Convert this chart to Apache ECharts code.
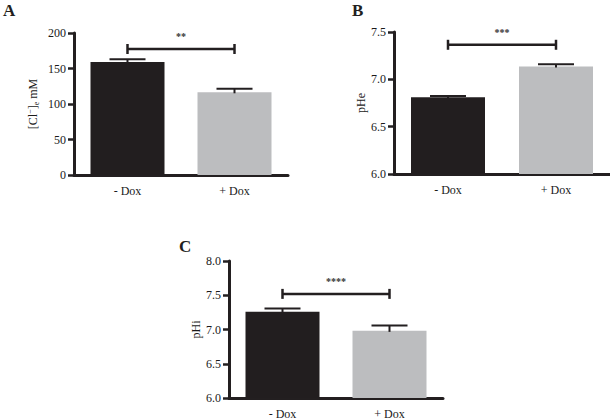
<!DOCTYPE html>
<html>
<head>
<meta charset="utf-8">
<script src="https://cdn.jsdelivr.net/npm/echarts@6/dist/echarts.min.js"></script>
<style>
html,body{margin:0;padding:0;background:#fff;}
#chart{width:610px;height:420px;}
</style>
</head>
<body>
<div id="chart"></div>
<script>
// ---- data ----
const categories = ['- Dox', '+ Dox'];
const clMeans = [159, 116.5];
const clSem = [4, 5];
const pheMeans = [6.81, 7.135];
const pheSem = [0.015, 0.025];
const phiMeans = [7.26, 6.98];
const phiSem = [0.045, 0.08];
const sigLevels = [177.5, 7.365, 7.52];
const sigLabels = ['**', '***', '****'];
const panelLetters = ['A', 'B', 'C'];

const barColors = ['#221e1f', '#bcbdbf'];
const ink = '#231f20';
const font = '"Liberation Serif", "Times New Roman", serif';

const chart = echarts.init(document.getElementById('chart'), null, {renderer: 'svg'});

const grids = [
  {left: 74, top: 33, width: 214, height: 142},
  {left: 394, top: 32, width: 216, height: 142},
  {left: 229, top: 261, width: 214, height: 143}
];

const yCfg = [
  {min: 0, max: 200, interval: 50, dec: 0, name: '{n|[Cl}{sup|−}{n|]}{sub|e}{n| mM}', gap: 34},
  {min: 6, max: 7.5, interval: 0.5, dec: 1, name: 'pHe', gap: 25},
  {min: 6, max: 8, interval: 0.5, dec: 1, name: 'pHi', gap: 23}
];

const meansList = [clMeans, pheMeans, phiMeans];
const semList = [clSem, pheSem, phiSem];

const xAxes = grids.map((g, i) => ({
  type: 'category', gridIndex: i, data: categories,
  axisLine: {lineStyle: {color: ink, width: 3}},
  axisTick: {alignWithLabel: true, length: 6, lineStyle: {color: ink, width: 2.5}},
  axisLabel: {fontFamily: font, fontSize: 12, color: '#1a1a1a', margin: 10}
}));

const yAxes = yCfg.map((c, i) => ({
  type: 'value', gridIndex: i, min: c.min, max: c.max, interval: c.interval,
  splitLine: {show: false},
  axisLine: {show: true, lineStyle: {color: ink, width: 3}},
  axisTick: {show: true, length: 6, lineStyle: {color: ink, width: 2.5}},
  axisLabel: {fontFamily: font, fontSize: 12, color: '#1a1a1a', margin: 8,
    formatter: v => v.toFixed(c.dec)},
  name: c.name, nameLocation: 'middle', nameRotate: 90, nameGap: c.gap,
  nameTextStyle: {fontFamily: font, fontSize: 12, color: '#1a1a1a',
    rich: {
      n: {fontFamily: font, fontSize: 12, color: '#1a1a1a', lineHeight: 14},
      sup: {fontFamily: font, fontSize: 8, color: '#1a1a1a', verticalAlign: 'top', lineHeight: 14, padding: [0, 0, 6, 0]},
      sub: {fontFamily: font, fontSize: 8, color: '#1a1a1a', verticalAlign: 'bottom', lineHeight: 14, padding: [6, 0, 0, 0]}
    }}
}));

const series = [];
meansList.forEach((m, i) => {
  series.push({
    type: 'bar', xAxisIndex: i, yAxisIndex: i, barWidth: 74,
    data: m.map((v, k) => ({value: v, itemStyle: {color: barColors[k]}})),
    silent: true, animation: false, z: 2
  });
  series.push({
    type: 'custom', xAxisIndex: i, yAxisIndex: i, animation: false, z: 3,
    data: m.map((v, k) => [k, v, semList[i][k]]),
    renderItem: (params, api) => {
      const top = api.coord([api.value(0), api.value(1) + api.value(2)]);
      const base = api.coord([api.value(0), api.value(1)]);
      const hw = 18;
      return {type: 'group', children: [
        {type: 'line', shape: {x1: top[0], y1: base[1] + 1, x2: top[0], y2: top[1]}, style: {stroke: ink, lineWidth: 2}},
        {type: 'line', shape: {x1: top[0] - hw, y1: top[1], x2: top[0] + hw, y2: top[1]}, style: {stroke: ink, lineWidth: 2}}
      ]};
    }
  });
  series.push({
    type: 'custom', xAxisIndex: i, yAxisIndex: i, animation: false, z: 3,
    data: [[0, 1, sigLevels[i]]],
    renderItem: (params, api) => {
      const p0 = api.coord([api.value(0), api.value(2)]);
      const p1 = api.coord([api.value(1), api.value(2)]);
      const y = p0[1];
      const h = 5;
      return {type: 'group', children: [
        {type: 'line', shape: {x1: p0[0], y1: y, x2: p1[0], y2: y}, style: {stroke: ink, lineWidth: 2.5}},
        {type: 'line', shape: {x1: p0[0], y1: y - h, x2: p0[0], y2: y + h}, style: {stroke: ink, lineWidth: 2.5}},
        {type: 'line', shape: {x1: p1[0], y1: y - h, x2: p1[0], y2: y + h}, style: {stroke: ink, lineWidth: 2.5}},
        {type: 'text', style: {x: (p0[0] + p1[0]) / 2, y: y - 12, text: sigLabels[i], fill: '#333',
          font: 'bold 10px ' + font, textAlign: 'center', textVerticalAlign: 'middle'}}
      ]};
    }
  });
});

const letterPos = [[3, 2], [352, 2], [179, 238]];

chart.setOption({
  animation: false,
  backgroundColor: '#fff',
  grid: grids,
  xAxis: xAxes,
  yAxis: yAxes,
  series: series,
  graphic: panelLetters.map((t, i) => ({
    type: 'text', left: letterPos[i][0], top: letterPos[i][1],
    style: {text: t, font: 'bold 17px ' + font, fill: ink}
  }))
});
</script>
</body>
</html>
